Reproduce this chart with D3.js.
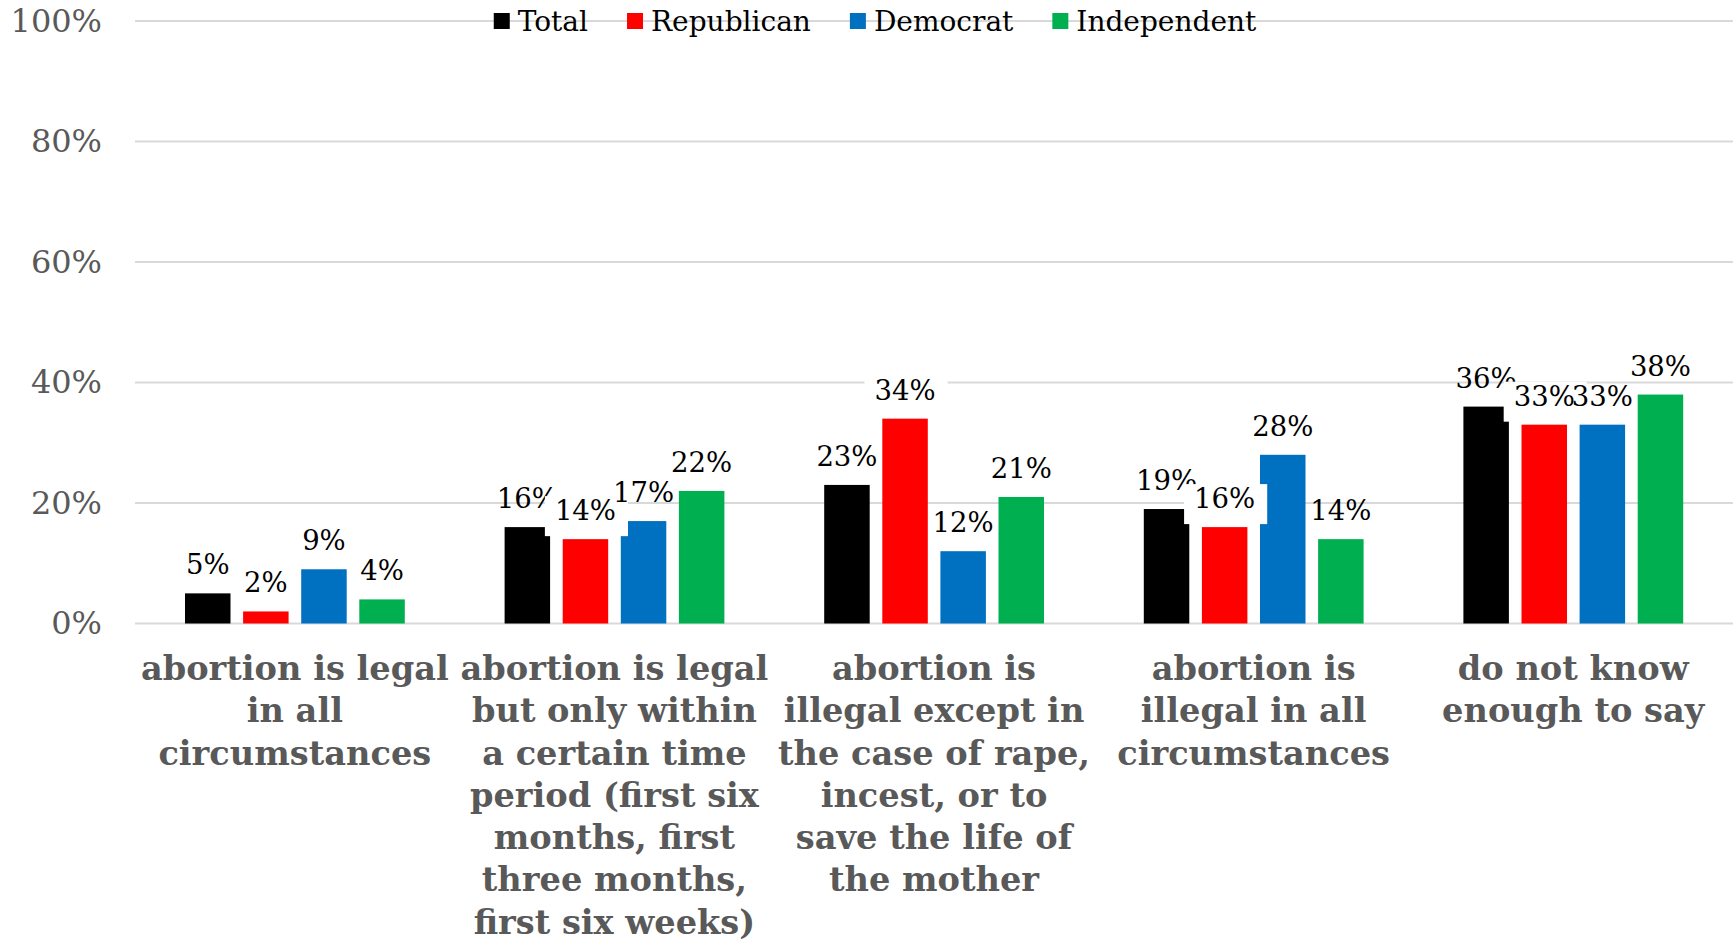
<!DOCTYPE html>
<html>
<head>
<meta charset="utf-8">
<script src="https://cdn.jsdelivr.net/npm/d3@7"></script>
<style>
  html, body { margin: 0; padding: 0; background: #ffffff; }
  svg { display: block; }
</style>
</head>
<body>
<svg id="chart" width="1736" height="941"></svg>
<script>
// ---- data ----
const categoryLines = [
  ["abortion is legal", "in all", "circumstances"],
  ["abortion is legal", "but only within", "a certain time", "period (first six", "months, first", "three months,", "first six weeks)"],
  ["abortion is", "illegal except in", "the case of rape,", "incest, or to", "save the life of", "the mother"],
  ["abortion is", "illegal in all", "circumstances"],
  ["do not know", "enough to say"]
];
const seriesNames = ["Total", "Republican", "Democrat", "Independent"];
const seriesColors = ["#000000", "#FF0000", "#0070C0", "#00B050"];
const totalValues = [5, 16, 23, 19, 36];
const republicanValues = [2, 14, 34, 16, 33];
const democratValues = [9, 17, 12, 28, 33];
const independentValues = [4, 22, 21, 14, 38];
const yTickValues = [0, 20, 40, 60, 80, 100];

const seriesValues = [totalValues, republicanValues, democratValues, independentValues];

// ---- layout ----
const plotLeft = 135, plotRight = 1733, plotTop = 21, plotBottom = 623.5;
const svg = d3.select("#chart");

const y = d3.scaleLinear().domain([0, 100]).range([plotBottom, plotTop]);
const x0 = d3.scaleBand().domain(d3.range(categoryLines.length)).range([plotLeft, plotRight]).padding(0);
const x1 = d3.scaleBand().domain(seriesNames).range([50, 269.8]).paddingInner(0.217).paddingOuter(0);

// gridlines
svg.append("g").selectAll("line").data(yTickValues).join("line")
  .attr("x1", plotLeft).attr("x2", plotRight)
  .attr("y1", d => y(d)).attr("y2", d => y(d))
  .attr("stroke", "#d9d9d9").attr("stroke-width", 2);

// y axis labels
const yAxis = d3.axisLeft(y).tickValues(yTickValues).tickFormat(d => d + "%").tickSize(0).tickPadding(0);
const yg = svg.append("g").attr("transform", `translate(102,0)`).call(yAxis);
yg.select(".domain").remove();
yg.selectAll("text")
  .attr("font-family", "'DejaVu Serif', serif")
  .attr("font-size", 32)
  .attr("fill", "#595959");

// bars
const flat = [];
seriesValues.forEach((vals, si) => vals.forEach((v, ci) => flat.push({si, ci, v})));
svg.append("g").selectAll("rect").data(flat).join("rect")
  .attr("x", d => x0(d.ci) + x1(seriesNames[d.si]))
  .attr("y", d => y(d.v))
  .attr("width", x1.bandwidth())
  .attr("height", d => y(0) - y(d.v))
  .attr("fill", d => seriesColors[d.si]);

// data labels (series in order; Republican labels carry a white box)
const labelG = svg.append("g");
seriesValues.forEach((vals, si) => {
  vals.forEach((v, ci) => {
    const cx = x0(ci) + x1(seriesNames[si]) + x1.bandwidth() / 2;
    const by = y(v) - 19;
    const g = labelG.append("g");
    const t = g.append("text")
      .attr("x", cx).attr("y", by)
      .attr("text-anchor", "middle")
      .attr("font-family", "'DejaVu Serif', serif")
      .attr("font-size", 27.5)
      .attr("fill", "#000000")
      .text(v + "%");
    if (si === 1) {
      const bb = t.node().getBBox();
      g.insert("rect", "text")
        .attr("x", bb.x - 10).attr("y", bb.y + 2)
        .attr("width", bb.width + 22).attr("height", bb.height + 8)
        .attr("fill", "#ffffff");
    }
  });
});

// category labels
const catG = svg.append("g");
const probe = catG.append("text")
  .attr("font-family", "'DejaVu Serif', serif").attr("font-weight", "bold").attr("font-size", 34)
  .text("abortion is legal");
const sx = 308 / probe.node().getComputedTextLength();
probe.remove();
categoryLines.forEach((lines, ci) => {
  const cx = x0(ci) + x0.bandwidth() / 2;
  const g = catG.append("g").attr("transform", `translate(${cx},0) scale(${sx},1)`);
  g.selectAll("text").data(lines).join("text")
    .attr("x", 0)
    .attr("y", (d, i) => 680 + i * 42.3)
    .attr("text-anchor", "middle")
    .attr("font-family", "'DejaVu Serif', serif")
    .attr("font-weight", "bold")
    .attr("font-size", 34)
    .attr("fill", "#595959")
    .text(d => d);
});

// legend
const legend = svg.append("g");
let lx = 0;
seriesNames.forEach((name, i) => {
  const ig = legend.append("g");
  ig.append("rect").attr("x", lx).attr("y", 13).attr("width", 16).attr("height", 16).attr("fill", seriesColors[i]);
  const t = ig.append("text").attr("x", lx + 24).attr("y", 31)
    .attr("font-family", "'DejaVu Serif', serif").attr("font-size", 28).attr("fill", "#000000")
    .text(name);
  lx += 24 + t.node().getComputedTextLength() + 39;
});
const legendWidth = lx - 39;
legend.attr("transform", `translate(${875 - legendWidth / 2},0)`);
</script>
</body>
</html>
